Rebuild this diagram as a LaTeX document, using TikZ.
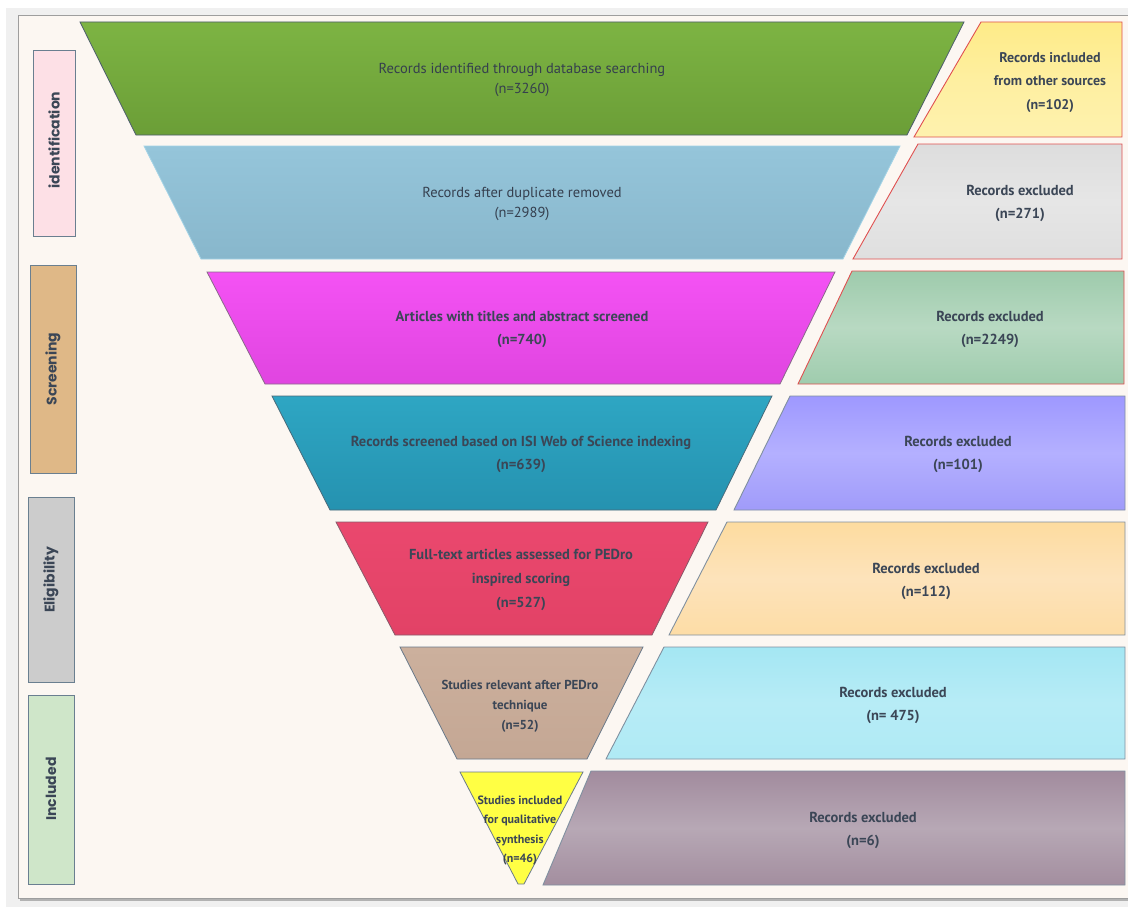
\documentclass[tikz,border=0pt]{standalone}
\usepackage{fontspec}
\setmainfont{PT Sans}
\newfontfamily\lblfont{Poppins}
\usetikzlibrary{shadings}
\definecolor{panel}{HTML}{FCF7F2}
\definecolor{txt}{HTML}{3B4656}
\definecolor{lblborder}{HTML}{6A7F90}
\definecolor{lpink}{HTML}{FDE0E6}
\definecolor{ltan}{HTML}{DFB887}
\definecolor{lgray}{HTML}{CCCCCC}
\definecolor{lgreen}{HTML}{CFE6C9}
\definecolor{bd1}{HTML}{4D5D6D}
\definecolor{bd2}{HTML}{A3D3E6}
\definecolor{bd3}{HTML}{8A6A8A}
\definecolor{bd4}{HTML}{4A6A7A}
\definecolor{bd5}{HTML}{8A5A6A}
\definecolor{bd6}{HTML}{6A7A8A}
\definecolor{g1t}{HTML}{7DB443}\definecolor{g1b}{HTML}{6B9E37}
\definecolor{g2t}{HTML}{95C5DA}\definecolor{g2b}{HTML}{88B7CC}
\definecolor{g3t}{HTML}{F452F4}\definecolor{g3b}{HTML}{E045E0}
\definecolor{g4t}{HTML}{2EA6C3}\definecolor{g4b}{HTML}{2592B0}
\definecolor{g5t}{HTML}{EA486E}\definecolor{g5b}{HTML}{E24266}
\definecolor{g6t}{HTML}{CCB09D}\definecolor{g6b}{HTML}{C4A794}
\definecolor{g7}{HTML}{FFFF44}
\definecolor{rb1}{HTML}{E05050}
\definecolor{rb2}{HTML}{8090A0}
\definecolor{r1t}{HTML}{FDE770}\definecolor{r1m}{HTML}{FEEFA0}\definecolor{r1b}{HTML}{FFF4BD}
\definecolor{r2t}{HTML}{D4D4D4}\definecolor{r2m}{HTML}{E6E6E6}\definecolor{r2b}{HTML}{D8D8D8}
\definecolor{r3t}{HTML}{84BD96}\definecolor{r3m}{HTML}{B8D9C2}\definecolor{r3b}{HTML}{86BF99}
\definecolor{r4t}{HTML}{8880FF}\definecolor{r4m}{HTML}{B4B0FF}\definecolor{r4b}{HTML}{8C86F4}
\definecolor{r5t}{HTML}{FDD484}\definecolor{r5m}{HTML}{FDE3BB}\definecolor{r5b}{HTML}{FDD690}
\definecolor{r6t}{HTML}{92E1F0}\definecolor{r6m}{HTML}{B7ECF6}\definecolor{r6b}{HTML}{A8E8F4}
\definecolor{r7t}{HTML}{8C6E86}\definecolor{r7m}{HTML}{B7A8B5}\definecolor{r7b}{HTML}{8F7489}
\pgfdeclareverticalshading{sh1}{100bp}{color(0bp)=(r1b); color(50bp)=(r1m); color(100bp)=(r1t)}
\pgfdeclareverticalshading{sh2}{100bp}{color(0bp)=(r2b); color(50bp)=(r2m); color(100bp)=(r2t)}
\pgfdeclareverticalshading{sh3}{100bp}{color(0bp)=(r3b); color(50bp)=(r3m); color(100bp)=(r3t)}
\pgfdeclareverticalshading{sh4}{100bp}{color(0bp)=(r4b); color(50bp)=(r4m); color(100bp)=(r4t)}
\pgfdeclareverticalshading{sh5}{100bp}{color(0bp)=(r5b); color(50bp)=(r5m); color(100bp)=(r5t)}
\pgfdeclareverticalshading{sh6}{100bp}{color(0bp)=(r6b); color(50bp)=(r6m); color(100bp)=(r6t)}
\pgfdeclareverticalshading{sh7}{100bp}{color(0bp)=(r7b); color(50bp)=(r7m); color(100bp)=(r7t)}
\tikzset{
  band/.style={draw=#1, line width=0.8pt, line join=miter},
  rbox/.style={draw=#1, line width=0.9pt},
  lbl/.style={draw=lblborder, line width=1pt},
  tx/.style={text=txt, align=center, font=\bfseries\fontsize{14.5}{23}\selectfont},
  txs/.style={text=txt!90!black, align=center, font=\fontsize{14.5}{20}\selectfont},
  txm/.style={text=txt, align=center, font=\bfseries\fontsize{13}{20}\selectfont},
  lbltx/.style={text=txt, rotate=90, font=\lblfont\bfseries\fontsize{14}{15}\selectfont},
}
\begin{document}
\begin{tikzpicture}[x=1pt,y=-1pt]
\useasboundingbox (0,0) rectangle (1128,907);
\fill[white] (0,0) rectangle (1128,907);
\fill[black!6] (6,8) rectangle (1128,907);
\fill[black!30] (20,17) rectangle (1128,901);
\draw[fill=panel, draw=black!38, line width=0.8pt] (18,15) rectangle (1132,898);

% stage labels
\path[lbl, fill=lpink] (33,51) rectangle (75,236);
\node[lbltx] (lid) at (54,140) {identification};
\path[lbl, fill=ltan] (30,265) rectangle (76,473);
\node[lbltx] (lsc) at (53,369) {Screening};
\path[lbl, fill=lgray] (28,497) rectangle (74,682);
\node[lbltx] (lel) at (51,580) {Eligibility};
\path[lbl, fill=lgreen] (28,695) rectangle (74,884);
\node[lbltx] (lin) at (51,789) {Included};

% funnel bands
\path[band=bd1, top color=g1t, bottom color=g1b]
  (80,22) -- (964,22) -- (907,135) -- (136,135) -- cycle;
\node[txs] (b1) at (522,79.5) {Records identified through database searching\\(n=3260)};
\path[band=bd2, top color=g2t, bottom color=g2b]
  (144,146) -- (900,146) -- (843,259) -- (201,259) -- cycle;
\node[txs] (b2) at (522,204) {Records after duplicate removed\\(n=2989)};
\path[band=bd3, top color=g3t, bottom color=g3b]
  (207,272) -- (835,272) -- (780,384) -- (265,384) -- cycle;
\node[tx] (b3) at (522,329.5) {Articles with titles and abstract screened\\(n=740)};
\path[band=bd4, top color=g4t, bottom color=g4b]
  (272,396) -- (772,396) -- (716,510) -- (330,510) -- cycle;
\node[tx] (b4) at (521,454.5) {Records screened based on ISI Web of Science indexing\\(n=639)};
\path[band=bd5, top color=g5t, bottom color=g5b]
  (336,522) -- (708,522) -- (652,635) -- (395,635) -- cycle;
\node[tx, font=\bfseries\fontsize{14.5}{24}\selectfont] (b5) at (521,580) {Full-text articles assessed for PEDro\\inspired scoring\\(n=527)};
\path[band=bd6, top color=g6t, bottom color=g6b]
  (400,647) -- (643,647) -- (587,759) -- (457,759) -- cycle;
\node[txm] (b6) at (520,706) {Studies relevant after PEDro\\technique\\(n=52)};
\path[band=bd6, fill=g7]
  (460,772) -- (583,772) -- (524,884) -- (518,884) -- cycle;
\node[txm, font=\bfseries\fontsize{12}{19.5}\selectfont] (b7) at (520,830.5) {Studies included\\for qualitative\\synthesis\\(n=46)};

% right boxes
\path[rbox=rb1, shading=sh1]
  (981,22) -- (1122,22) -- (1122,137) -- (914,137) -- cycle;
\node[tx, font=\bfseries\fontsize{14}{23.5}\selectfont] (r1) at (1050,82.5) {Records included\\from other sources\\(n=102)};
\path[rbox=rb1, shading=sh2]
  (918,144) -- (1122,144) -- (1122,259) -- (853,259) -- cycle;
\node[tx] (r2) at (1020,203.5) {Records excluded\\(n=271)};
\path[rbox=rb1, shading=sh3]
  (852,271) -- (1124,271) -- (1124,384) -- (798,384) -- cycle;
\node[tx] (r3) at (990,329.5) {Records excluded\\(n=2249)};
\path[rbox=rb2, shading=sh4]
  (790,396) -- (1125,396) -- (1125,510) -- (734,510) -- cycle;
\node[tx] (r4) at (958,454.5) {Records excluded\\(n=101)};
\path[rbox=rb2, shading=sh5]
  (727,522) -- (1125,522) -- (1125,635) -- (669,635) -- cycle;
\node[tx] (r5) at (926,581) {Records excluded\\(n=112)};
\path[rbox=rb2, shading=sh6]
  (664,647) -- (1125,647) -- (1125,759) -- (606,759) -- cycle;
\node[tx] (r6) at (893,705) {Records excluded\\(n= 475)};
\path[rbox=rb2, shading=sh7]
  (591,771) -- (1125,771) -- (1125,885) -- (543,885) -- cycle;
\node[tx] (r7) at (863,830) {Records excluded\\(n=6)};
\end{tikzpicture}
\end{document}
